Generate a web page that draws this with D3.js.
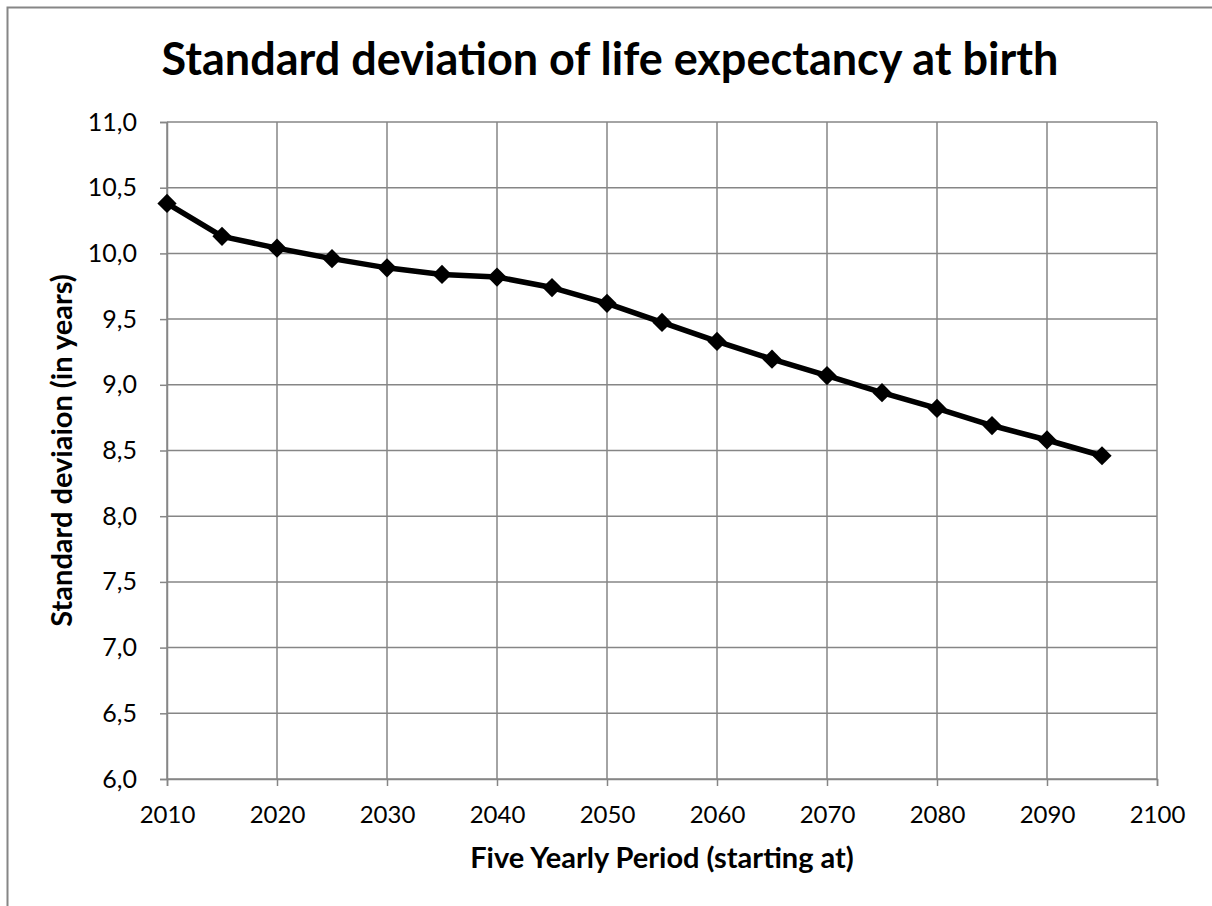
<!DOCTYPE html>
<html>
<head>
<meta charset="utf-8">
<script src="https://cdn.jsdelivr.net/npm/d3@7"></script>
<style>
  html, body { margin: 0; background: #fff; overflow: hidden; }
  svg { display: block; }
  svg text { font-family: Lato, "Open Sans", sans-serif; fill: #000; }
</style>
</head>
<body>
<div id="chart"></div>
<script>
// five-year periods (starting year) and standard deviation of life expectancy
const periods = [2010, 2015, 2020, 2025, 2030, 2035, 2040, 2045, 2050,
  2055, 2060, 2065, 2070, 2075, 2080, 2085, 2090, 2095];
const stdDev = [10.38, 10.13, 10.04, 9.96, 9.89, 9.84, 9.82, 9.74, 9.62,
  9.475, 9.33, 9.195, 9.07, 8.94, 8.82, 8.69, 8.58, 8.46];
const xTicks = [2010, 2020, 2030, 2040, 2050, 2060, 2070, 2080, 2090, 2100];
const yTicks = [6.0, 6.5, 7.0, 7.5, 8.0, 8.5, 9.0, 9.5, 10.0, 10.5, 11.0];

const svgWidth = 1212,
  svgHeight = 906;
const margin = { top: 122, right: 55, bottom: 127, left: 167 };
const width = svgWidth - margin.left - margin.right;
const height = svgHeight - margin.top - margin.bottom;

const root = d3
  .select('#chart')
  .append('svg')
  .attr('width', svgWidth)
  .attr('height', svgHeight);

// chart area border (only top and left fall inside the frame)
root
  .append('rect')
  .attr('x', 7.5)
  .attr('y', 7.5)
  .attr('width', svgWidth + 20)
  .attr('height', svgHeight + 20)
  .attr('fill', 'none')
  .attr('stroke', '#868686')
  .attr('stroke-width', 2);

root
  .append('text')
  .attr('x', 610)
  .attr('y', 75)
  .attr('text-anchor', 'middle')
  .style('font-size', '45px')
  .style('font-weight', 'bold')
  .text('Standard deviation of life expectancy at birth');

const svg = root
  .append('g')
  .attr('transform', `translate(${margin.left},${margin.top})`);

const x = d3.scaleLinear().domain([2010, 2100]).range([0, width]);
const y = d3.scaleLinear().domain([6, 11]).range([height, 0]);
const fmt = (d) => d3.format('.1f')(d).replace('.', ',');

// gridlines
svg
  .append('g')
  .selectAll('line')
  .data(yTicks)
  .enter()
  .append('line')
  .attr('x1', 0)
  .attr('x2', width)
  .attr('y1', (d) => y(d))
  .attr('y2', (d) => y(d))
  .attr('stroke', '#868686')
  .attr('stroke-width', 1.5);

svg
  .append('g')
  .selectAll('line')
  .data(xTicks)
  .enter()
  .append('line')
  .attr('x1', (d) => x(d))
  .attr('x2', (d) => x(d))
  .attr('y1', 0)
  .attr('y2', height)
  .attr('stroke', '#868686')
  .attr('stroke-width', 1.5);

const xAxis = svg
  .append('g')
  .attr('transform', `translate(0,${height})`)
  .call(
    d3.axisBottom(x).tickValues(xTicks).tickFormat(d3.format('d')).tickSize(7).tickPadding(20),
  );

const yAxis = svg
  .append('g')
  .call(d3.axisLeft(y).tickValues(yTicks).tickFormat(fmt).tickSize(7).tickPadding(23));

[xAxis, yAxis].forEach((ax) => {
  ax.select('.domain').attr('stroke', '#868686').attr('stroke-width', 1.5);
  ax.selectAll('.tick line').attr('stroke', '#868686').attr('stroke-width', 1.5);
  ax.selectAll('text')
    .style('font-size', '24px')
    .style('font-family', 'Lato, "Open Sans", sans-serif');
});
yAxis.selectAll('text').style('font-size', '25px');

// axis titles
svg
  .append('text')
  .attr('x', width / 2)
  .attr('y', height + 89)
  .attr('text-anchor', 'middle')
  .style('font-size', '29px')
  .style('font-weight', 'bold')
  .text('Five Yearly Period (starting at)');

svg
  .append('text')
  .attr('transform', `translate(${-95},${height / 2}) rotate(-90)`)
  .attr('text-anchor', 'middle')
  .style('font-size', '29px')
  .style('font-weight', 'bold')
  .text('Standard deviaion (in years)');

const data = periods.map((p, i) => ({ year: p, value: stdDev[i] }));

const line = d3
  .line()
  .x((d) => x(d.year))
  .y((d) => y(d.value));

svg
  .append('path')
  .datum(data)
  .attr('fill', 'none')
  .attr('stroke', '#000')
  .attr('stroke-width', 5.5)
  .attr('stroke-linejoin', 'round')
  .attr('d', line);

svg
  .selectAll('.marker')
  .data(data)
  .enter()
  .append('path')
  .attr('class', 'marker')
  .attr('d', d3.symbol().type(d3.symbolSquare).size(185))
  .attr('transform', (d) => `translate(${x(d.year)},${y(d.value)}) rotate(45)`)
  .attr('fill', '#000');
</script>
</body>
</html>
